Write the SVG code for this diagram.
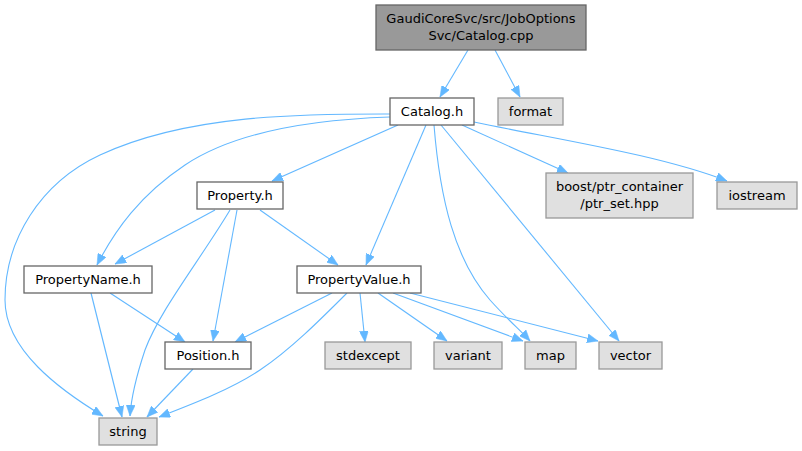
<svg xmlns="http://www.w3.org/2000/svg" width="802" height="451" viewBox="0 0 802 451">
<style>
.n rect{fill:#ffffff;stroke:#666666;stroke-width:1.3}
.g rect{fill:#e0e0e0;stroke:#999999;stroke-width:1.3}
.r rect{fill:#999999;stroke:#666666;stroke-width:1.3}
text{font-family:"DejaVu Sans",sans-serif;font-size:13px;fill:#000000;text-anchor:middle}
#edges path{fill:none;stroke:#63b8ff;stroke-width:1.1;marker-end:url(#arr)}
</style>
<defs>
<marker id="arr" markerUnits="userSpaceOnUse" markerWidth="11" markerHeight="9" refX="11" refY="4.5" orient="auto">
<path d="M0,0 L11,4.5 L0,9 z" fill="#63b8ff" stroke="#63b8ff" stroke-width="0.5"/>
</marker>
</defs>
<rect width="802" height="451" fill="#ffffff"/>
<g id="edges">
<path d="M468,50 L440,97"/>
<path d="M495,50 L520,97"/>
<path d="M390,114 C310,114 190,113 100,155 C40,183 5,240 5,300 C5,350 60,390 103,416"/>
<path d="M390,117 C300,120 230,135 185,165 C140,195 115,230 97,265"/>
<path d="M398,125 L272,181"/>
<path d="M426,125 L366,265"/>
<path d="M434,125 C440,200 455,260 490,300 C508,320 520,330 530,341"/>
<path d="M441,125 L619,341"/>
<path d="M462,125 L568,173"/>
<path d="M474,122 C560,140 660,155 727,181"/>
<path d="M215,210 L115,264"/>
<path d="M260,210 L338,265"/>
<path d="M230,210 C200,260 160,310 145,350 C135,380 131,400 130,416"/>
<path d="M237,210 L213,341"/>
<path d="M91,293 L122,417"/>
<path d="M110,293 L185,342"/>
<path d="M193,369 L147,417"/>
<path d="M332,293 L235,342"/>
<path d="M347,293 C320,320 290,350 260,370 C230,390 190,405 159,417"/>
<path d="M360,293 L365,342"/>
<path d="M378,293 L447,341"/>
<path d="M393,293 L523,341"/>
<path d="M410,293 L598,341"/>
</g>
<g id="root" class="r"><rect x="376" y="5" width="210" height="45"/><text x="481" y="23">GaudiCoreSvc/src/JobOptions</text><text x="481" y="40">Svc/Catalog.cpp</text></g>
<g id="catalog" class="n"><rect x="390" y="98" width="84" height="27"/><text x="432" y="116">Catalog.h</text></g>
<g id="format" class="g"><rect x="498" y="98" width="65" height="27"/><text x="530.5" y="116">format</text></g>
<g id="property" class="n"><rect x="197" y="182" width="86" height="27"/><text x="240" y="200">Property.h</text></g>
<g id="boost" class="g"><rect x="546" y="173" width="147" height="45"/><text x="619.5" y="191">boost/ptr_container</text><text x="619.5" y="208">/ptr_set.hpp</text></g>
<g id="iostream" class="g"><rect x="717" y="182" width="80" height="27"/><text x="757" y="200">iostream</text></g>
<g id="propertyname" class="n"><rect x="24" y="266" width="128" height="27"/><text x="88" y="284">PropertyName.h</text></g>
<g id="propertyvalue" class="n"><rect x="297" y="266" width="124" height="27"/><text x="359" y="284">PropertyValue.h</text></g>
<g id="position" class="n"><rect x="165" y="342" width="86" height="27"/><text x="208" y="360">Position.h</text></g>
<g id="stdexcept" class="g"><rect x="325" y="342" width="86" height="27"/><text x="368" y="360">stdexcept</text></g>
<g id="variant" class="g"><rect x="434" y="342" width="68" height="27"/><text x="468" y="360">variant</text></g>
<g id="map" class="g"><rect x="525" y="342" width="51" height="27"/><text x="550.5" y="360">map</text></g>
<g id="vector" class="g"><rect x="599" y="342" width="63" height="27"/><text x="630.5" y="360">vector</text></g>
<g id="string" class="g"><rect x="99" y="418" width="58" height="27"/><text x="128" y="436">string</text></g>
</svg>
